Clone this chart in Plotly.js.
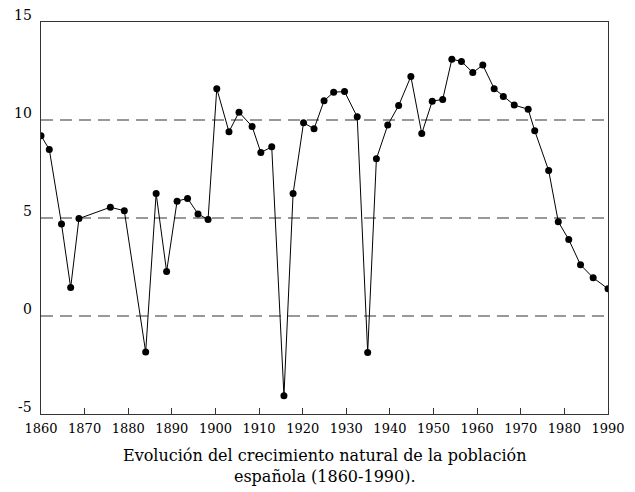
<!DOCTYPE html>
<html>
<head>
<meta charset="utf-8">
<script src="https://cdn.plot.ly/plotly-3.0.1.min.js"></script>
<style>html,body{margin:0;padding:0;background:#fff;}#chart{width:635px;height:492px;}</style>
</head>
<body>
<div id="chart"></div>
<script>
const years = [1860.0, 1861.9, 1864.7, 1866.8, 1868.7, 1875.9, 1879.1, 1884.0, 1886.4, 1888.8,
  1891.2, 1893.6, 1896.0, 1898.3, 1900.3, 1903.1, 1905.4, 1908.4, 1910.4, 1912.9,
  1915.7, 1917.8, 1920.2, 1922.6, 1924.9, 1927.1, 1929.6, 1932.5, 1934.9, 1936.9,
  1939.5, 1942.0, 1944.8, 1947.3, 1949.7, 1952.1, 1954.2, 1956.4, 1959.0, 1961.3,
  1963.9, 1966.0, 1968.5, 1971.7, 1973.2, 1976.4, 1978.6, 1981.0, 1983.7, 1986.6, 1990.0];
const growth = [9.2, 8.5, 4.7, 1.45, 4.97, 5.55, 5.37, -1.84, 6.25, 2.27,
  5.86, 6.0, 5.21, 4.92, 11.6, 9.4, 10.4, 9.67, 8.34, 8.63,
  -4.07, 6.25, 9.86, 9.55, 10.98, 11.42, 11.45, 10.16, -1.86, 8.02,
  9.74, 10.74, 12.22, 9.31, 10.96, 11.05, 13.1, 12.99, 12.42, 12.8,
  11.6, 11.2, 10.76, 10.55, 9.45, 7.42, 4.81, 3.9, 2.61, 1.95, 1.39];
const xTicks = [1860, 1870, 1880, 1890, 1900, 1910, 1920, 1930, 1940, 1950, 1960, 1970, 1980, 1990];
const yTicks = [-5, 0, 5, 10, 15];
const gridVals = [0, 5, 10];
const captionLines = ["Evolución del crecimiento natural de la población", "española (1860-1990)."];

const serif = "DejaVu Serif";

const trace = {
  x: years, y: growth, type: 'scatter', mode: 'lines+markers',
  line: {color: '#000', width: 1},
  marker: {color: '#000', size: 7},
  hoverinfo: 'skip'
};

const shapes = gridVals.map(v => ({
  type: 'line', xref: 'paper', yref: 'y', x0: 0, x1: 1, y0: v, y1: v,
  line: {color: '#777', width: 1.5, dash: '12px,7px'}, layer: 'below'
}));

const annotations = yTicks.map(v => ({
  xref: 'paper', yref: 'y', x: 0, y: v, xanchor: 'right', yanchor: 'bottom',
  xshift: -7, yshift: -3, showarrow: false, text: String(v),
  font: {family: serif, size: 14, color: '#000'}
}));
annotations.push({
  xref: 'paper', yref: 'paper', x: 0.5, y: 0, xanchor: 'center', yanchor: 'top',
  yshift: -30, showarrow: false, align: 'center',
  text: captionLines.join('<br>'),
  font: {family: serif, size: 16, color: '#000'}
});

const layout = {
  width: 635, height: 492,
  margin: {l: 41, r: 27, t: 22, b: 78},
  paper_bgcolor: '#fff', plot_bgcolor: '#fff',
  showlegend: false,
  font: {family: serif},
  xaxis: {
    range: [1860, 1990], tickvals: xTicks, ticktext: xTicks.map(String),
    ticks: 'inside', ticklen: 6, tickcolor: '#333', tickwidth: 1,
    showline: true, linecolor: '#333', linewidth: 1, mirror: true,
    showgrid: false, zeroline: false, ticklabelstandoff: 2,
    tickfont: {family: serif, size: 13, color: '#000'}
  },
  yaxis: {
    range: [-5, 15], tickvals: yTicks, showticklabels: false, ticks: '',
    showline: true, linecolor: '#333', linewidth: 1, mirror: true,
    showgrid: false, zeroline: false
  },
  shapes: shapes,
  annotations: annotations
};

Plotly.newPlot('chart', [trace], layout, {displayModeBar: false, staticPlot: true});
</script>
</body>
</html>
